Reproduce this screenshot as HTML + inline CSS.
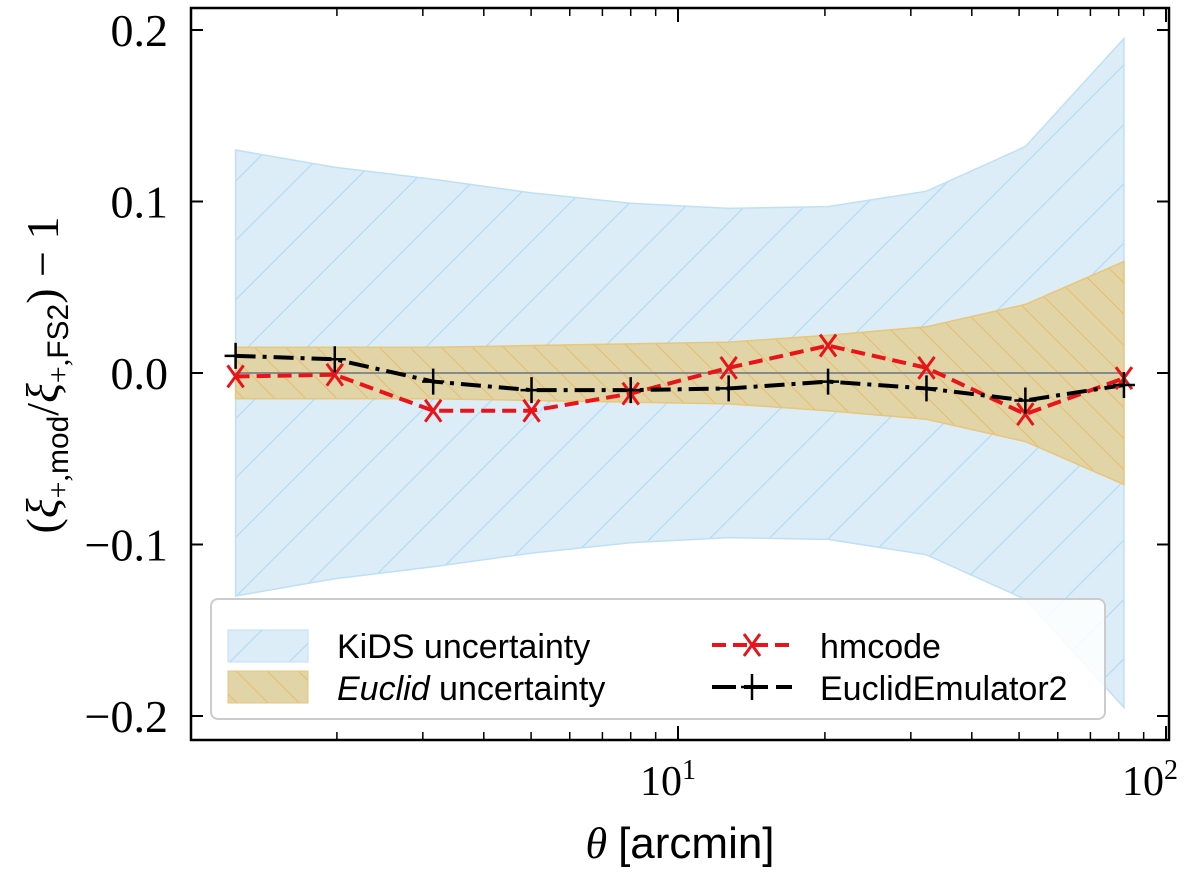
<!DOCTYPE html>
<html><head><meta charset="utf-8"><style>
body{margin:0;background:#fff;}
svg{display:block;}
</style></head><body>
<svg id="chart" width="1200" height="878" xmlns="http://www.w3.org/2000/svg">
<defs>
<pattern id="hatchK" patternUnits="userSpaceOnUse" width="42" height="42" patternTransform="rotate(45)">
<rect width="42" height="42" fill="#dcedf8"/><line x1="0" y1="0" x2="0" y2="42" stroke="#b3dcf3" stroke-width="2.5"/></pattern>
<pattern id="hatchE" patternUnits="userSpaceOnUse" width="22" height="22" patternTransform="rotate(-45)">
<rect width="22" height="22" fill="#e1d4a6"/><line x1="0" y1="0" x2="0" y2="22" stroke="#e6bd6a" stroke-width="2"/></pattern>
<clipPath id="plotClip"><rect x="191" y="8" width="981" height="732"/></clipPath>
</defs>
<g id="plot" clip-path="url(#plotClip)"></g>
<g id="axes"></g>
</svg>
<script>
const theta = [1.24,1.98,3.15,5.01,8.0,12.7,20.3,32.3,51.5,82.0];
const kidsErr = [0.13,0.12,0.113,0.105,0.099,0.096,0.097,0.106,0.132,0.195];
const euclidErr = [0.015,0.015,0.015,0.016,0.017,0.018,0.022,0.027,0.04,0.065];
const hmcode = [-0.002,-0.001,-0.022,-0.022,-0.012,0.003,0.016,0.003,-0.024,-0.003];
const emu = [0.010,0.008,-0.005,-0.010,-0.010,-0.009,-0.005,-0.009,-0.016,-0.007];
const yTicks = [0.2,0.1,0.0,-0.1,-0.2];
const yTickLabels = ["0.2","0.1","0.0","\u22120.1","\u22120.2"];

const NS="http://www.w3.org/2000/svg";
const X = t => 678 + (Math.log10(t)-1)*488;
const Y = v => 373 - v*1715;
function mk(tag, attrs, parent){const e=document.createElementNS(NS,tag);for(const k in attrs)e.setAttribute(k,attrs[k]);parent.appendChild(e);return e;}
const plot=document.getElementById('plot'), axes=document.getElementById('axes');

function band(err, fill, stroke){
  let d='M';
  theta.forEach((t,i)=>{d+=X(t)+','+Y(err[i])+' L';});
  for(let i=theta.length-1;i>=0;i--){d+=X(theta[i])+','+Y(-err[i])+(i>0?' L':' Z');}
  return mk('path',{d:d,fill:fill,stroke:stroke,'stroke-width':1.5},plot);
}
const kb=band(kidsErr,'url(#hatchK)','#bfe0f4');


const eb=band(euclidErr,'url(#hatchE)','#e8c67a');


const zl=mk('line',{x1:X(theta[0]),x2:X(theta[theta.length-1]),y1:Y(0),y2:Y(0),stroke:'#8a8a8a','stroke-width':2},plot);



function series(vals,color,dash,name){
  const pts=theta.map((t,i)=>X(t)+','+Y(vals[i])).join(' ');
  const l=mk('polyline',{points:pts,fill:'none',stroke:color,'stroke-width':4,'stroke-dasharray':dash},plot);
  
  
}
series(hmcode,'#e8141a','14 7','hmcode');
series(emu,'#000','20 7 4 7','euclidemulator2');
theta.forEach((t,i)=>{
  const x=X(t),y=Y(hmcode[i]);
  const m=mk('path',{d:`M${x-8},${y-11}L${x+8},${y+11}M${x-8},${y+11}L${x+8},${y-11}`,stroke:'#e8141a','stroke-width':3},plot);
  
  
  const y2=Y(emu[i]);
  const p=mk('path',{d:`M${x-11},${y2}L${x+11},${y2}M${x},${y2-13}L${x},${y2+13}`,stroke:'#000','stroke-width':2.5},plot);
  
  
});

const fr=mk('rect',{x:191,y:8,width:978,height:732,fill:'none',stroke:'#000','stroke-width':2.5},axes);


yTicks.forEach((v,i)=>{
  const y=Y(v);
  mk('line',{x1:191,x2:203,y1:y,y2:y,stroke:'#000','stroke-width':2},axes);
  mk('line',{x1:1157,x2:1169,y1:y,y2:y,stroke:'#000','stroke-width':2},axes);
  const t=mk('text',{x:168,y:y+16,'text-anchor':'end','font-family':'Liberation Serif, serif','font-size':46},axes);
  t.textContent=yTickLabels[i];
  
  
});
[10,100].forEach(v=>{const x=X(v);
  mk('line',{x1:x,x2:x,y1:740,y2:726,stroke:'#000','stroke-width':2},axes);
  mk('line',{x1:x,x2:x,y1:8,y2:22,stroke:'#000','stroke-width':2},axes);});
[2,3,4,5,6,7,8,9,20,30,40,50,60,70,80,90].forEach(v=>{const x=X(v);
  mk('line',{x1:x,x2:x,y1:740,y2:732,stroke:'#000','stroke-width':1.5},axes);
  mk('line',{x1:x,x2:x,y1:8,y2:16,stroke:'#000','stroke-width':1.5},axes);});
</script>
<svg style="position:absolute;left:0;top:0" width="1200" height="878" xmlns="http://www.w3.org/2000/svg">
<g font-family="Liberation Serif, serif" font-size="42">
<text x="668" y="795" text-anchor="middle">10<tspan font-size="28" dy="-16">1</tspan></text>
<text x="1150" y="795" text-anchor="middle">10<tspan font-size="28" dy="-16">2</tspan></text>
<text x="680" y="858" text-anchor="middle" font-size="44"><tspan font-style="italic">θ</tspan> <tspan font-family="Liberation Sans, sans-serif">[arcmin]</tspan></text>
<text transform="translate(58,375) rotate(-90)" text-anchor="middle" font-size="46">(<tspan font-style="italic">ξ</tspan><tspan font-size="30" dy="10">+,<tspan font-family="Liberation Sans, sans-serif">mod</tspan></tspan><tspan dy="-10">/</tspan><tspan font-style="italic">ξ</tspan><tspan font-size="30" dy="10">+,<tspan font-family="Liberation Sans, sans-serif">FS2</tspan></tspan><tspan dy="-10">) − 1</tspan></text>
</g>
<g>
<rect x="211" y="599" width="894" height="120" rx="7" fill="rgba(255,255,255,0.85)" stroke="#cccccc" stroke-width="2"/>
<rect x="228" y="630" width="80" height="32" fill="url(#hatchK)" stroke="#bfe0f4"/>
<rect x="228" y="671" width="80" height="32" fill="url(#hatchE)" stroke="#e8c67a"/>
<g font-family="Liberation Sans, sans-serif" font-size="34">
<text x="337" y="658">KiDS uncertainty</text>
<text x="337" y="700"><tspan font-style="italic">Euclid</tspan> uncertainty</text>
<text x="820" y="658">hmcode</text>
<text x="820" y="700">EuclidEmulator2</text>
</g>
<line x1="712" x2="792" y1="645" y2="645" stroke="#e8141a" stroke-width="4" stroke-dasharray="14 7"/>
<path d="M744,634L760,656M744,656L760,634" stroke="#e8141a" stroke-width="3"/>
<line x1="712" x2="792" y1="687" y2="687" stroke="#000" stroke-width="4" stroke-dasharray="24 8"/>
<path d="M741,687L763,687M752,674L752,700" stroke="#000" stroke-width="2.5"/>
</g>
</svg>
</body></html>
